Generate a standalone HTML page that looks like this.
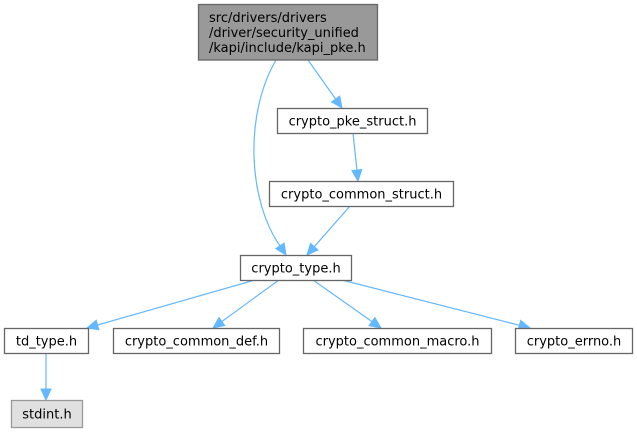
<!DOCTYPE html>
<html>
<head>
<meta charset="utf-8">
<style>
html,body{margin:0;padding:0;background:#fff;}
svg{display:block;}
text{font-family:"DejaVu Sans","Liberation Sans",sans-serif;font-size:13px;fill:#000;}
</style>
</head>
<body>
<svg width="637" height="432" viewBox="0 0 637 432" xmlns="http://www.w3.org/2000/svg">
<g stroke="#63b8ff" stroke-width="1.2" fill="none">
  <path d="M308,60 L335.6,99"/>
  <path d="M353,133 L356.9,170"/>
  <path d="M276,60 C244,115 248,200 280,246"/>
  <path d="M350,206 L314.3,246.7"/>
  <path d="M255,280 L97.6,325"/>
  <path d="M279,280 L221.9,321.5"/>
  <path d="M313,280 L372,321.6"/>
  <path d="M342,280 L519.3,325.3"/>
  <path d="M46,353 L46,389"/>
</g>
<g fill="#63b8ff" stroke="#63b8ff" stroke-width="1">
  <polygon points="342,108 331.6,101.9 339.7,96.1"/>
  <polygon points="358,181 351.9,170.6 361.8,169.5"/>
  <polygon points="286,255 275.8,248.6 284.1,243.1"/>
  <polygon points="307,255 310.5,243.4 318,250"/>
  <polygon points="87,328 96.2,320.2 98.9,329.8"/>
  <polygon points="213,328 218.95,317.5 224.8,325.6"/>
  <polygon points="381,328 369.1,325.7 374.9,317.6"/>
  <polygon points="530,328 518.1,330.1 520.6,320.4"/>
  <polygon points="46,400 41,389 51,389"/>
</g>
<g stroke="#666" stroke-width="1.3">
  <rect x="198.5" y="4.5" width="179" height="55.5" fill="#999999"/>
  <rect x="277.5" y="108.5" width="150" height="25" fill="#fff"/>
  <rect x="269.5" y="181.5" width="184" height="25" fill="#fff"/>
  <rect x="240.5" y="255.5" width="111" height="25" fill="#fff"/>
  <rect x="4.5" y="328.5" width="84" height="25" fill="#fff"/>
  <rect x="113.5" y="328.5" width="166" height="25" fill="#fff"/>
  <rect x="303.5" y="328.5" width="188" height="25" fill="#fff"/>
  <rect x="515.5" y="328.5" width="117" height="25" fill="#fff"/>
</g>
<rect x="11.5" y="400.5" width="71" height="27" fill="#e0e0e0" stroke="#999" stroke-width="1.3"/>
<text x="209" y="22">src/drivers/drivers</text>
<text x="209" y="37">/driver/security_unified</text>
<text x="209" y="52">/kapi/include/kapi_pke.h</text>
<g text-anchor="middle">
  <text x="352.5" y="125.5">crypto_pke_struct.h</text>
  <text x="361.5" y="198.5">crypto_common_struct.h</text>
  <text x="296" y="272.5">crypto_type.h</text>
  <text x="46.5" y="345.5">td_type.h</text>
  <text x="196.5" y="345.5">crypto_common_def.h</text>
  <text x="397.5" y="345.5">crypto_common_macro.h</text>
  <text x="574" y="345.5">crypto_errno.h</text>
  <text x="47" y="418.5">stdint.h</text>
</g>
</svg>
</body>
</html>
